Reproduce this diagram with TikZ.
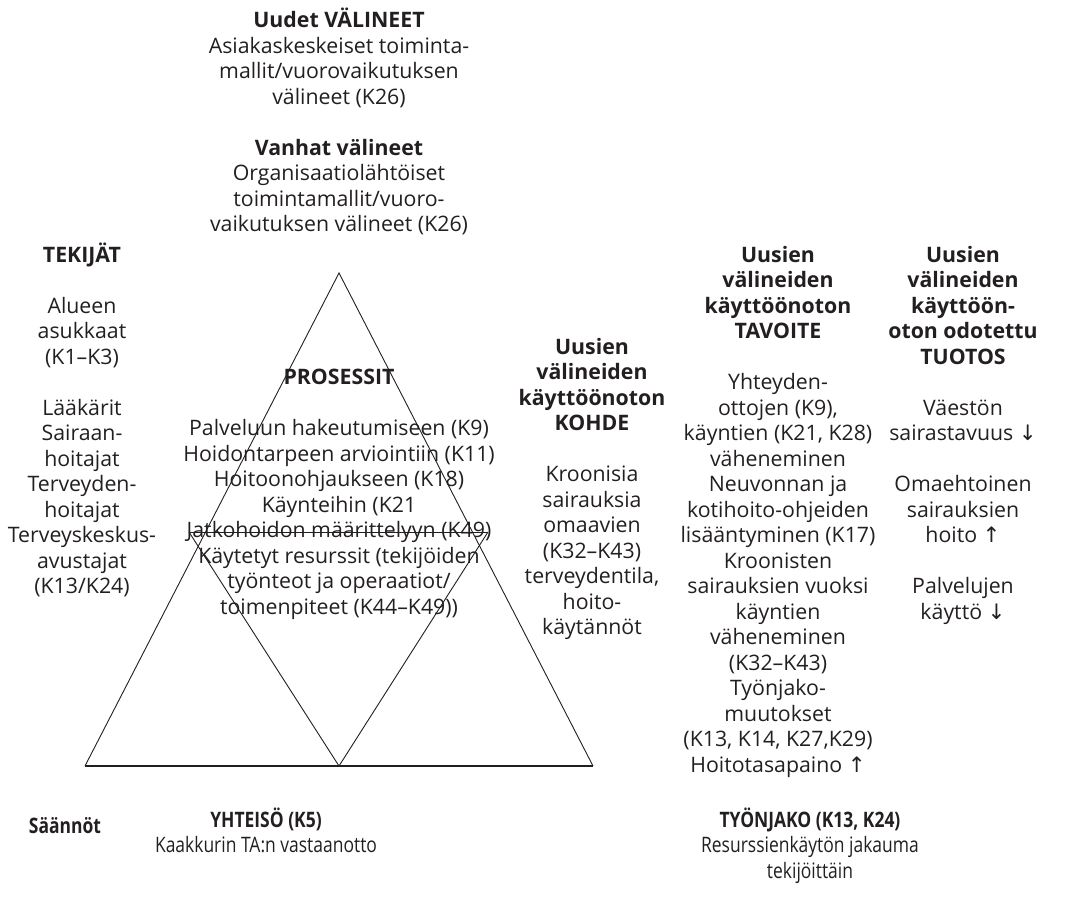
\documentclass[tikz,border=0pt]{standalone}
\usepackage{fontspec}
\setmainfont{Open Sans}
\newfontfamily\condfont[FakeStretch=0.82]{Open Sans}
\newfontfamily\symfont{DejaVu Sans}
\newcommand{\arrup}{{\symfont\char"2191}}
\newcommand{\arrdn}{{\symfont\char"2193}}
% fixed-height strut so that every block hangs from its first baseline
\newcommand{\tstrut}{\rule{0pt}{22pt}}
\definecolor{ink}{HTML}{231F20}

\begin{document}
\begin{tikzpicture}[x=1pt,y=-1pt,
  blk/.style={anchor=north, inner sep=0pt, align=center, text=ink,
    font=\fontsize{21.3}{25.5}\selectfont},
  head/.style={blk, font=\fontsize{21.3}{25.5}\selectfont\bfseries},
  cblk/.style={blk, font=\condfont\fontsize{21.3}{25.5}\selectfont},
  chead/.style={blk, font=\condfont\fontsize{21.3}{25.5}\selectfont\bfseries},
  side/.style={draw=ink, line width=0.9pt, line join=miter},
  base/.style={draw=ink, line width=1.3pt}]
\useasboundingbox (0,0) rectangle (1071,907);

% ---- activity triangle ----
\coordinate (apex) at (339,273);
\coordinate (bl) at (85,766);
\coordinate (br) at (593,766);
\coordinate (bm) at (339,766);
\coordinate (il) at (189,532);
\coordinate (ir) at (488,532);

% ---- tools ----
\node[head] (toolsNewHead) at (339,5.5) {\tstrut Uudet VÄLINEET};
\node[blk] (toolsNew) at (339,31) {\tstrut Asiakaskeskeiset toiminta-\\mallit/vuorovaikutuksen\\välineet (K26)};
\node[head] (toolsOldHead) at (339,133) {\tstrut Vanhat välineet};
\node[blk] (toolsOld) at (339,158.5) {\tstrut Organisaatiolähtöiset\\toimintamallit/vuoro-\\vaikutuksen välineet (K26)};

% ---- subjects ----
\node[head] (subjHead) at (82,240) {\tstrut TEKIJÄT};
\node[blk] (subj) at (82,291) {\tstrut Alueen\\asukkaat\\(K1–K3)};
\node[blk] (staff) at (82,393) {\tstrut Lääkärit\\Sairaan-\\hoitajat\\Terveyden-\\hoitajat\\Terveyskeskus-\\avustajat\\(K13/K24)};

% ---- processes ----
\node[head] (procHead) at (339,362) {\tstrut PROSESSIT};
\node[blk] (proc) at (339,413.5) {\tstrut Palveluun hakeutumiseen (K9)\\Hoidontarpeen arviointiin (K11)\\Hoitoonohjaukseen (K18)\\Käynteihin (K21\\Jatkohoidon määrittelyyn (K49)\\Käytetyt resurssit (tekijöiden\\työnteot ja operaatiot/\\toimenpiteet (K44–K49))};

% ---- object ----
\node[head] (objHead) at (592,332) {\tstrut Uusien\\välineiden\\käyttöönoton\\KOHDE};
\node[blk] (obj) at (592,459.5) {\tstrut Kroonisia\\sairauksia\\omaavien\\(K32–K43)\\terveydentila,\\hoito-\\käytännöt};

% ---- goal ----
\node[head] (goalHead) at (778,240) {\tstrut Uusien\\välineiden\\käyttöönoton\\TAVOITE};
\node[blk] (goal) at (778,367.5) {\tstrut Yhteyden-\\ottojen (K9),\\käyntien (K21, K28)\\väheneminen\\Neuvonnan ja\\kotihoito-ohjeiden\\lisääntyminen (K17)\\Kroonisten\\sairauksien vuoksi\\käyntien\\väheneminen\\(K32–K43)\\Työnjako-\\muutokset\\(K13, K14, K27,K29)\\Hoitotasapaino \arrup};

% ---- outcome ----
\node[head] (outHead) at (963,240) {\tstrut Uusien\\välineiden\\käyttöön-\\oton odotettu\\TUOTOS};
\node[blk] (out1) at (963,393) {\tstrut Väestön\\sairastavuus \arrdn};
\node[blk] (out2) at (963,469.5) {\tstrut Omaehtoinen\\sairauksien\\hoito \arrup};
\node[blk] (out3) at (963,571.5) {\tstrut Palvelujen\\käyttö \arrdn};

% ---- rules, community, division of labour ----
\node[chead] (rules) at (65,811) {\tstrut Säännöt};
\node[chead] (commHead) at (266,805) {\tstrut YHTEISÖ (K5)};
\node[cblk] (comm) at (266,830.5) {\tstrut Kaakkurin TA:n vastaanotto};
\node[chead] (divHead) at (810,805) {\tstrut TYÖNJAKO (K13, K24)};
\node[cblk] (div) at (810,830.5) {\tstrut Resurssienkäytön jakauma\\tekijöittäin};

% ---- triangle lines ----
\draw[side] (bl) -- (apex) -- (br);
\draw[base] (bl) -- (br);
\draw[side] (il) -- (ir);
\draw[side] (il) -- (bm) -- (ir);
\end{tikzpicture}
\end{document}
